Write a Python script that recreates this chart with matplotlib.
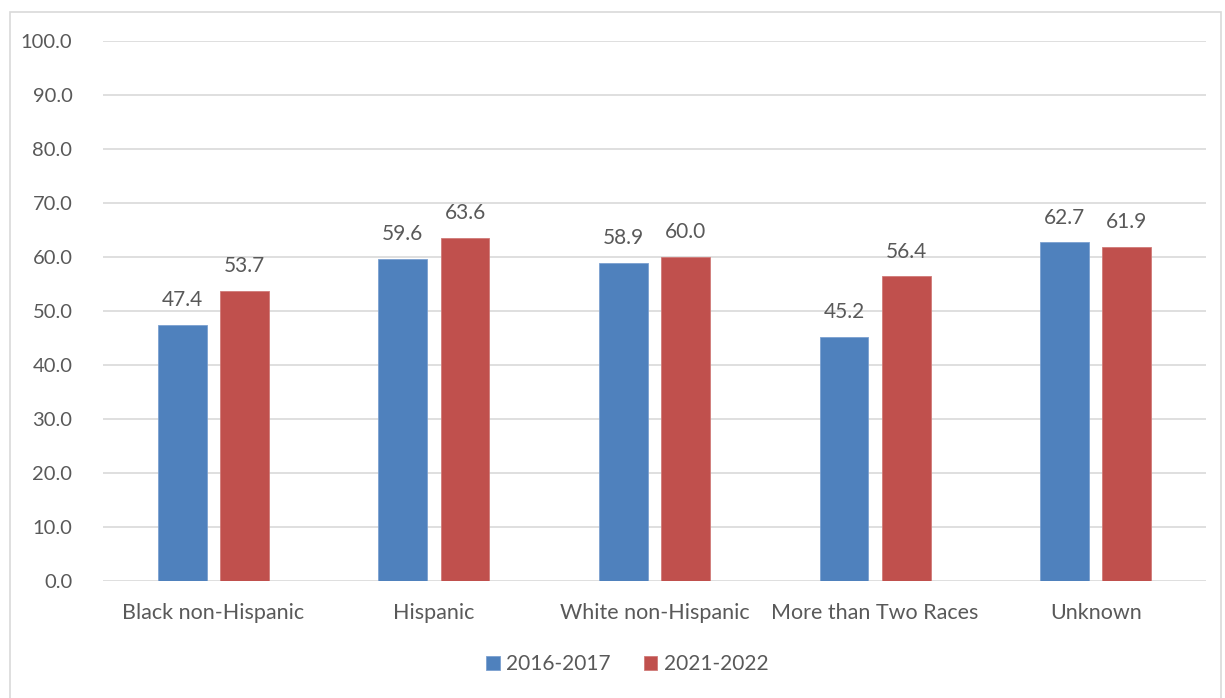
# Grouped bar chart: rates by race/ethnicity, 2016-2017 vs 2021-2022
import numpy as np
import matplotlib.pyplot as plt
from matplotlib.patches import Rectangle

categories = ['Black non-Hispanic', 'Hispanic', 'White non-Hispanic',
              'More than Two Races', 'Unknown']
series_names = ['2016-2017', '2021-2022']
values_2016 = [47.4, 59.6, 58.9, 45.2, 62.7]
values_2021 = [53.7, 63.6, 60.0, 56.4, 61.9]

BLUE = '#4F81BD'
RED = '#C0504D'
TEXT = '#595959'
GRID = '#D9D9D9'

plt.rcParams['font.family'] = ['Lato', 'DejaVu Sans']
plt.rcParams['font.size'] = 14.5

fig = plt.figure(figsize=(12.25, 6.98), dpi=100)
ax = fig.add_axes([103 / 1225, 1 - 581 / 698, 1103 / 1225, 540 / 698])

x = np.arange(len(categories))
width = 0.222
offset = 0.141

bars1 = ax.bar(x - offset, values_2016, width, color=BLUE, edgecolor='#7BA0D0',
               linewidth=0.6, label=series_names[0], zorder=3)
bars2 = ax.bar(x + offset, values_2021, width, color=RED, edgecolor='#D07A78',
               linewidth=0.6, label=series_names[1], zorder=3)

for bars, vals in [(bars1, values_2016), (bars2, values_2021)]:
    for b, v in zip(bars, vals):
        ax.text(b.get_x() + b.get_width() / 2, v + 4.6, f'{v:.1f}',
                ha='center', va='center', color=TEXT, fontsize=15)

ax.set_xlim(-0.5, len(categories) - 0.5)
ax.set_ylim(0, 100)
ax.set_yticks(np.arange(0, 101, 10))
ax.set_yticklabels([f'{t:.1f}' for t in np.arange(0, 101, 10)])
ax.set_xticks(x)
ax.set_xticklabels(categories, fontsize=15.5)
ax.tick_params(axis='both', length=0, colors=TEXT)
ax.tick_params(axis='y', pad=22, labelsize=14.5)
ax.tick_params(axis='x', pad=16)
ax.grid(axis='y', color=GRID, linewidth=1.2, zorder=0)
for s in ax.spines.values():
    s.set_visible(False)

leg = fig.legend(handles=[bars1, bars2], labels=series_names, loc='center',
                 bbox_to_anchor=(0.512, 1 - 664 / 698), ncol=2, frameon=False,
                 handlelength=0.65, handleheight=0.65, handletextpad=0.3,
                 columnspacing=1.6, fontsize=15)
for t in leg.get_texts():
    t.set_color(TEXT)

# Outer chart border
fig.patches.append(Rectangle((10 / 1225, -0.01), 1211 / 1225, 1 - 12 / 698 + 0.01,
                             transform=fig.transFigure, fill=False,
                             edgecolor=GRID, linewidth=1.2))

fig.savefig('out.png', dpi=100)
